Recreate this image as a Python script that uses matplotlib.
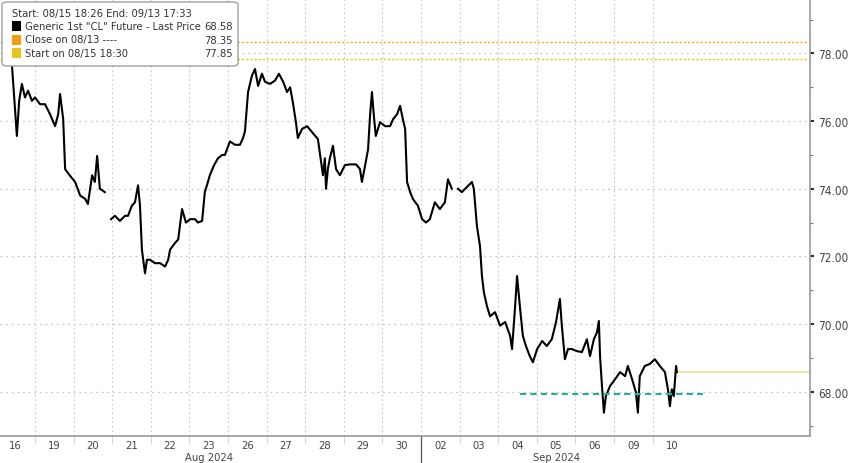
import numpy as np
import matplotlib
matplotlib.use("Agg")
import matplotlib.pyplot as plt
from matplotlib.patches import FancyBboxPatch, Rectangle
from matplotlib import font_manager

# narrow font, like the terminal chart
names = {f.name for f in font_manager.fontManager.ttflist}
narrow = "Liberation Sans Narrow" if "Liberation Sans Narrow" in names else "DejaVu Sans"
plt.rcParams["font.family"] = [narrow, "DejaVu Sans"]
plt.rcParams["font.stretch"] = "condensed"

# sessions shown on the x axis (one slot per trading day)
sessions = ["16", "19", "20", "21", "22", "23", "26", "27", "28", "29", "30",
            "02", "03", "04", "05", "06", "09", "10"]
months = ["Aug 2024", "Sep 2024"]
month_start = [0, 11]

# time in trading-day units (day k spans k..k+1), price
t = [0.40, 0.53, 0.59, 0.66, 0.74, 0.82, 0.92, 1.00, 1.13, 1.26, 1.39, 1.52, 1.60,
     1.65, 1.73, 1.78, 1.91, 2.04, 2.17, 2.30, 2.37, 2.48, 2.55, 2.61, 2.68, 2.81,
     np.nan,
     2.97, 3.07, 3.20, 3.33, 3.41, 3.51, 3.59, 3.67, 3.72, 3.77, 3.85, 3.90, 3.98,
     4.11, 4.24, 4.37, 4.45, 4.50, 4.63, 4.71, 4.81, 4.91, 5.02, 5.15, 5.22, 5.33,
     5.40, 5.48, 5.53, 5.64, 5.74, 5.85, 5.92, 6.05, 6.18, 6.31, 6.39, 6.44, 6.52,
     6.62, 6.70, 6.78, 6.88, 6.96, 7.09, 7.22, 7.32, 7.43, 7.53, 7.61, 7.68, 7.76,
     7.81, 7.92, 8.05, 8.18, 8.33, 8.41, 8.46, 8.51, 8.54, 8.59, 8.64, 8.72, 8.80,
     8.90, 9.03, 9.16, 9.32, 9.42, 9.47, 9.55, 9.63, 9.68, 9.73, 9.78, 9.83, 9.94,
     10.07, 10.20, 10.28, 10.38, 10.46, 10.53, 10.59, 10.64, 10.72, 10.79, 10.92,
     11.03, 11.13, 11.23, 11.36, 11.49, 11.62, 11.70, 11.80,
     np.nan,
     11.96, 12.06, 12.19, 12.32, 12.37, 12.45, 12.53, 12.58, 12.63, 12.71, 12.79,
     12.92, 13.05, 13.18, 13.31, 13.36, 13.44, 13.49, 13.57, 13.64, 13.72, 13.82,
     13.90, 14.01, 14.14, 14.26, 14.39, 14.50, 14.60, 14.65, 14.73, 14.81, 14.91,
     15.04, 15.17, 15.30, 15.38, 15.48, 15.56, 15.61, 15.64, 15.69, 15.74, 15.79,
     15.90, 16.03, 16.16, 16.29, 16.36, 16.47, 16.57, 16.62, 16.67, 16.80, 16.93,
     17.06, 17.19, 17.32, 17.40, 17.45, 17.50, 17.55, 17.61, 17.63]
price = [77.70, 75.56, 76.60, 77.10, 76.70, 76.90, 76.60, 76.70, 76.50, 76.50, 76.20,
         75.85, 76.20, 76.80, 76.06, 74.58, 74.38, 74.20, 73.80, 73.70, 73.55, 74.40,
         74.20, 74.97, 74.00, 73.90,
         np.nan,
         73.10, 73.20, 73.05, 73.20, 73.20, 73.50, 73.60, 74.10, 73.50, 72.20, 71.50,
         71.90, 71.90, 71.80, 71.80, 71.70, 71.90, 72.20, 72.40, 72.50, 73.40, 73.00,
         73.10, 73.10, 73.00, 73.05, 73.90, 74.20, 74.40, 74.70, 74.90, 75.00, 75.00,
         75.40, 75.30, 75.30, 75.50, 75.70, 76.86, 77.34, 77.54, 77.04, 77.40, 77.16,
         77.10, 77.20, 77.40, 77.16, 76.86, 77.00, 76.56, 75.97, 75.50, 75.77, 75.85,
         75.67, 75.47, 74.80, 74.40, 74.90, 74.00, 74.60, 74.90, 75.27, 74.58, 74.40,
         74.70, 74.72, 74.72, 74.58, 74.20, 74.67, 75.17, 76.15, 76.86, 76.15, 75.56,
         75.97, 75.85, 75.85, 76.06, 76.20, 76.45, 76.06, 75.77, 74.20, 73.90, 73.70,
         73.50, 73.10, 73.00, 73.10, 73.60, 73.40, 73.60, 74.28, 74.00,
         np.nan,
         74.00, 73.90, 74.05, 74.20, 74.00, 72.90, 72.30, 71.42, 70.94, 70.53, 70.23,
         70.35, 69.95, 70.06, 69.65, 69.26, 70.53, 71.42, 70.44, 69.65, 69.35, 69.05,
         68.87, 69.26, 69.50, 69.35, 69.55, 70.06, 70.74, 69.95, 68.96, 69.26, 69.26,
         69.20, 69.17, 69.55, 69.05, 69.55, 69.75, 70.09, 69.05, 68.17, 67.38, 67.87,
         68.17, 68.37, 68.58, 68.46, 68.76, 68.37, 67.98, 67.38, 68.46, 68.76, 68.82,
         68.96, 68.76, 68.58, 68.07, 67.57, 68.07, 67.87, 68.76, 68.58]

last_price = 68.58
close_0813 = 78.35
start_0815 = 77.85
support = 67.93
support_span = (13.57, 18.31)

fig = plt.figure(figsize=(8.48, 4.64), dpi=100)
ax = fig.add_axes([0.0, 27 / 464, 810 / 848, 437 / 464])
ax.set_xlim(0.093, 21.08)
ax.set_ylim(66.69, 79.61)

# grid
for k in range(1, len(sessions)):
    ax.axvline(k, color="#c8c8c8", lw=0.8, ls=(0, (1.5, 2.5)), zorder=1)
for v in np.arange(68, 80, 2):
    ax.axhline(v, color="#c8c8c8", lw=0.9, ls=(0, (1.5, 3)), zorder=1)

# reference lines
ax.axhline(close_0813, color="#f5a623", lw=1.0, ls=(0, (1.5, 1.5)), zorder=2)
ax.axhline(start_0815, color="#e8c400", lw=1.0, ls=(0, (1.5, 1.5)), zorder=2)
ax.hlines(last_price, np.nanmax(t), 21.08, color="#f8dc8c", lw=1.2, zorder=2)
ax.hlines(support, support_span[0], support_span[1], color="#1db39b", lw=1.5,
          ls=(0, (3, 2)), zorder=4)

ax.plot(t, price, color="black", lw=1.5, zorder=3)

# axes styling
for s in ["left", "top"]:
    ax.spines[s].set_visible(False)
for s in ["right", "bottom"]:
    ax.spines[s].set_color("#9a9a9a")
    ax.spines[s].set_linewidth(1.2)
ax.yaxis.tick_right()
ax.set_yticks(np.arange(68, 80, 2))
ax.set_yticks(np.arange(67, 80, 2), minor=True)
ax.set_yticklabels(["%.2f" % v for v in np.arange(68, 80, 2)])
ax.tick_params(axis="y", which="major", length=3, width=1.5, color="#333333",
               labelsize=8.5, labelcolor="#444444", pad=3)
ax.tick_params(axis="y", which="minor", length=2, width=0.8, color="#777777")

ax.set_xticks(np.arange(len(sessions)) + 0.5)
ax.set_xticklabels(sessions)
ax.tick_params(axis="x", length=0, labelsize=8, labelcolor="#444444", pad=3)
ax.set_xticks(np.arange(1, len(sessions)), minor=True)
ax.tick_params(axis="x", which="minor", length=6, width=0.6, color="#d0d0d0")

# month labels and separator
month_end = month_start[1:] + [len(sessions)]
for name, a, b in zip(months, month_start, month_end):
    ax.text((a + b) / 2, -0.036, name, transform=ax.get_xaxis_transform(),
            ha="center", va="top", fontsize=8, color="#444444")
ax.plot([month_start[1], month_start[1]], [0, -0.07], transform=ax.get_xaxis_transform(),
        color="#555555", lw=0.9, clip_on=False)

# legend box
box = FancyBboxPatch((2 / 848, 1 - 67 / 464), 236 / 848, 64 / 464,
                     boxstyle="round,pad=0,rounding_size=0.006",
                     transform=fig.transFigure, facecolor="white",
                     edgecolor="#a0a0a0", lw=1.0, zorder=10)
fig.patches.append(box)
fig.text(12 / 848, 1 - 14 / 464, "Start: 08/15 18:26 End: 09/13 17:33",
         fontsize=8, color="#333333", va="center", zorder=11)
rows = [("Generic 1st \"CL\" Future - Last Price", "%.2f" % last_price, "black"),
        ("Close on 08/13 ----", "%.2f" % close_0813, "#f39c12"),
        ("Start on 08/15 18:30", "%.2f" % start_0815, "#e6c619")]
for i, (lab, val, col) in enumerate(rows):
    yy = 1 - (27 + 13.5 * i) / 464
    fig.patches.append(Rectangle((12 / 848, yy - 5 / 464), 9 / 848, 10 / 464,
                                 transform=fig.transFigure, facecolor=col,
                                 edgecolor="none", zorder=11))
    fig.text(25 / 848, yy, lab, fontsize=8, color="#333333", va="center", zorder=11)
    fig.text(233 / 848, yy, val, fontsize=8, color="#333333", va="center",
             ha="right", zorder=11)

fig.savefig("out.png", dpi=100)
